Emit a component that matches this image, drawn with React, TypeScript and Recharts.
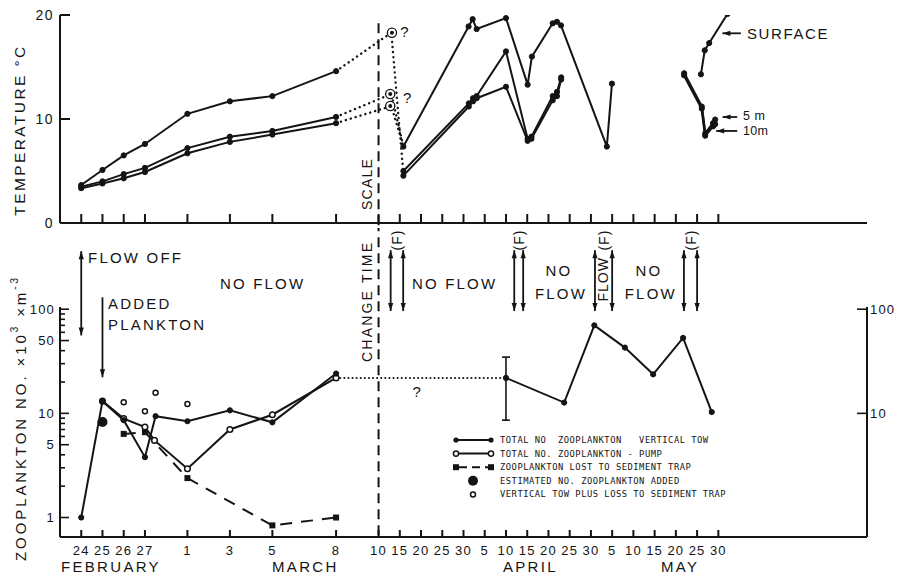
import React from 'react';
import {
  ComposedChart, Line, Scatter, XAxis, YAxis, ReferenceLine, ReferenceDot, ErrorBar, Legend,
} from 'recharts';

const FONT = '"Liberation Sans", Arial, Helvetica, sans-serif';
const ink = '#141414';

// x axis runs in "units": 1 day per unit up to Mar 10, then 5 days per unit
const tickPos = [0, 1, 2, 3, 5, 7, 9, 12, 14, 15, 16, 17, 18, 19, 20, 21, 22, 23, 24, 25, 26, 27, 28, 29, 30];
const tickLabels = ['24', '25', '26', '27', '1', '3', '5', '8', '10', '15', '20', '25', '30', '5', '10', '15', '20', '25', '30', '5', '10', '15', '20', '25', '30'];
const monthPos = [1.4, 10.55, 21.15, 28.2];
const monthNames = ['FEBRUARY', 'MARCH', 'APRIL', 'MAY'];

// temperature, Feb 24 - Mar 8
const tEarly = [0, 1, 2, 3, 5, 7, 9, 12];
const surfEarly = [3.65, 5.1, 6.5, 7.6, 10.5, 11.7, 12.2, 14.6];
const m5Early = [3.5, 4.0, 4.7, 5.3, 7.2, 8.3, 8.85, 10.2];
const m10Early = [3.35, 3.8, 4.3, 4.9, 6.7, 7.8, 8.5, 9.6];

// doubtful readings just after the scale change
const tQuery = [14.63, 14.55, 14.55];
const query = [18.3, 12.4, 11.25];
const tBridge = [12, 14.6, 15.17];
const surfBridge = [14.6, 18.3, 4.7];
const m5Bridge = [10.2, 12.4, 7.35];
const m10Bridge = [9.6, 11.25, 7.35];

// Mar 15 - May
const tSurfLate = [15.17, 18.24, 18.43, 18.62, 20.0, 21.02, 21.22, 22.2, 22.4, 22.59, 24.75, 24.99];
const surfLate = [7.35, 18.9, 19.6, 18.65, 19.7, 13.3, 16.0, 19.2, 19.35, 19.0, 7.35, 13.4];
const tMidLate = [15.17, 18.25, 18.45, 18.62, 20.0, 21.02, 21.2, 22.2, 22.4, 22.6];
const m5Late = [5.0, 11.5, 12.0, 12.2, 16.5, 8.1, 8.3, 12.2, 12.6, 14.0];
const m10Late = [4.55, 11.2, 11.7, 12.0, 13.1, 7.9, 8.1, 11.8, 12.2, 13.8];
const tSurfMay = [29.18, 29.36, 29.57, 30.43];
const surfMay = [14.3, 16.6, 17.3, 20.1];
const tMidMay = [28.39, 29.22, 29.38, 29.75, 29.85];
const m5May = [14.4, 11.2, 8.6, 9.6, 9.95];
const m10May = [14.2, 11.0, 8.4, 9.3, 9.5];

// zooplankton, thousands per m3
const tTowEarly = [0, 1, 2, 3, 3.5, 5, 7, 9, 12];
const towEarly = [1.0, 13.1, 8.6, 3.8, 9.4, 8.4, 10.7, 8.2, 24.1];
const tTowLate = [20, 22.74, 24.16, 25.6, 26.93, 28.34, 29.69];
const towLate = [21.9, 12.7, 70, 42.8, 23.7, 53, 10.3];
const towRange = [8.6, 34.7];
const tGap = [12, 20];
const gap = [21.9, 21.9];
const tPump = [1, 2, 3, 3.45, 5, 7, 9, 12];
const pump = [13.1, 8.9, 7.4, 5.5, 2.94, 7.0, 9.7, 21.9];
const tTrap = [2, 3, 5, 9, 12];
const trap = [6.35, 6.6, 2.39, 0.84, 1.0];
const tAdded = [1];
const added = [8.25];
const tTowPlus = [2, 3, 3.5, 5];
const towPlus = [12.8, 10.45, 15.8, 12.3];

const zooTicks = [1, 2, 3, 4, 5, 6, 7, 8, 9, 10, 20, 30, 40, 50, 60, 70, 80, 90, 100];
const zooMajor = [1, 5, 10, 50, 100];

// flow changes
const flowArrowT = [14.57, 15.16, 20.39, 20.81, 24.19, 25.0, 28.38, 29.0];
const flowMarkT = [14.87, 20.6, 24.6, 28.7];

const legendNames = [
  'TOTAL NO  ZOOPLANKTON   VERTICAL TOW',
  'TOTAL NO. ZOOPLANKTON - PUMP',
  'ZOOPLANKTON LOST TO SEDIMENT TRAP',
  'ESTIMATED NO. ZOOPLANKTON ADDED',
  'VERTICAL TOW PLUS LOSS TO SEDIMENT TRAP',
];

const pts = (t: number[], v: number[]) => t.map((x, i) => ({ t: x, v: v[i] }));

const dotFill = { r: 2.6, fill: ink, stroke: ink, strokeWidth: 1 };
const dotOpen = { r: 2.8, fill: '#fff', stroke: ink, strokeWidth: 1.5 };
const dotted = { strokeDasharray: '0.1 5', strokeLinecap: 'round' as const, strokeWidth: 2.4 };

const arrow = (headStart: boolean, headEnd: boolean) => (p: any) => {
  const { x1, y1, x2, y2 } = p;
  const dx = x2 - x1;
  const dy = y2 - y1;
  const len = Math.hypot(dx, dy) || 1;
  const ux = dx / len;
  const uy = dy / len;
  const head = (tx: number, ty: number, ax: number, ay: number) => {
    const bx = tx - ax * 8;
    const by = ty - ay * 8;
    return `M${tx},${ty} L${bx - ay * 2.6},${by + ax * 2.6} L${bx + ay * 2.6},${by - ax * 2.6} Z`;
  };
  return (
    <g>
      <line x1={x1} y1={y1} x2={x2} y2={y2} stroke={ink} strokeWidth={1.8} />
      {headStart && <path d={head(x1, y1, -ux, -uy)} fill={ink} />}
      {headEnd && <path d={head(x2, y2, ux, uy)} fill={ink} />}
    </g>
  );
};

type NoteOpts = { anchor?: 'start' | 'middle' | 'end'; rotate?: boolean; size?: number; spacing?: number };
const note = (key: string, x: number, y: number, text: React.ReactNode, o: NoteOpts = {}) => (
  <ReferenceDot
    key={key}
    x={x}
    y={y}
    r={0}
    ifOverflow="visible"
    shape={(p: any) => (
      <text
        x={p.cx}
        y={p.cy}
        transform={o.rotate ? `rotate(-90 ${p.cx} ${p.cy})` : undefined}
        textAnchor={o.anchor ?? 'start'}
        dominantBaseline="central"
        fontSize={o.size ?? 15}
        letterSpacing={o.spacing ?? 2.2}
        fontFamily={FONT}
        fill={ink}
      >
        {text}
      </text>
    )}
  />
);

const TopXTick = (p: any) => (
  <line x1={p.x} x2={p.x} y1={p.y} y2={p.y - 9} stroke={ink} strokeWidth={2} />
);

const BottomXTick = (p: any) => {
  const i = tickPos.indexOf(p.payload.value);
  return (
    <g>
      <line x1={p.x} x2={p.x} y1={p.y} y2={p.y - 7} stroke={ink} strokeWidth={2} />
      <text x={p.x} y={p.y + 13} textAnchor="middle" dominantBaseline="central" fontSize={13} letterSpacing={1.2} fontFamily={FONT} fill={ink}>
        {tickLabels[i]}
      </text>
    </g>
  );
};

const TempTick = (p: any) => (
  <g>
    <line x1={p.x} x2={p.x + 10} y1={p.y} y2={p.y} stroke={ink} strokeWidth={2} />
    <text x={p.x - 6} y={p.y} textAnchor="end" dominantBaseline="central" fontSize={14} letterSpacing={1.5} fontFamily={FONT} fill={ink}>
      {p.payload.value}
    </text>
  </g>
);

const LogTick = (p: any) => {
  const v = p.payload.value;
  const major = zooMajor.includes(v);
  return (
    <g>
      <line x1={p.x} x2={p.x + (major ? 9 : 5)} y1={p.y} y2={p.y} stroke={ink} strokeWidth={1.6} />
      {major && (
        <text x={p.x - 5} y={p.y} textAnchor="end" dominantBaseline="central" fontSize={13} letterSpacing={1.2} fontFamily={FONT} fill={ink}>
          {v}
        </text>
      )}
    </g>
  );
};

const RightTick = (p: any) => (
  <g>
    <line x1={p.x} x2={p.x - 10} y1={p.y} y2={p.y} stroke={ink} strokeWidth={1.6} />
    <text x={p.x + 3} y={p.y} textAnchor="start" dominantBaseline="central" fontSize={13} letterSpacing={1.2} fontFamily={FONT} fill={ink}>
      {p.payload.value}
    </text>
  </g>
);

const TempTitle = (p: any) => {
  const { x, y, height } = p.viewBox;
  const cx = x + 19;
  const cy = y + height / 2 + 11;
  return (
    <text x={cx} y={cy} transform={`rotate(-90 ${cx} ${cy})`} textAnchor="middle" dominantBaseline="central" fontSize={15.5} letterSpacing={2.4} fontFamily={FONT} fill={ink}>
      TEMPERATURE °C
    </text>
  );
};

const ZooTitle = (p: any) => {
  const { x, y, height } = p.viewBox;
  const cx = x + 20;
  const cy = y + height / 2 - 4;
  return (
    <text x={cx} y={cy} transform={`rotate(-90 ${cx} ${cy})`} textAnchor="middle" dominantBaseline="central" fontSize={15} letterSpacing={2.9} fontFamily={FONT} fill={ink}>
      ZOOPLANKTON NO. ×10
      <tspan dy={-6} fontSize={10}>3</tspan>
      <tspan dy={6}> ×m</tspan>
      <tspan dy={-6} fontSize={10}>-3</tspan>
    </text>
  );
};

const legendMarker = (i: number, y: number) => {
  if (i === 0)
    return (
      <g>
        <line x1={6} x2={41} y1={y} y2={y} stroke={ink} strokeWidth={2} />
        <circle cx={6} cy={y} r={2.6} fill={ink} />
        <circle cx={41} cy={y} r={2.6} fill={ink} />
      </g>
    );
  if (i === 1)
    return (
      <g>
        <line x1={6} x2={41} y1={y} y2={y} stroke={ink} strokeWidth={2} />
        <circle cx={6} cy={y} r={2.6} fill="#fff" stroke={ink} strokeWidth={1.5} />
        <circle cx={41} cy={y} r={2.6} fill="#fff" stroke={ink} strokeWidth={1.5} />
      </g>
    );
  if (i === 2)
    return (
      <g>
        <line x1={9} x2={38} y1={y} y2={y} stroke={ink} strokeWidth={2} strokeDasharray="8 5" />
        <rect x={3} y={y - 3} width={6} height={6} fill={ink} />
        <rect x={38} y={y - 3} width={6} height={6} fill={ink} />
      </g>
    );
  if (i === 3) return <circle cx={23} cy={y} r={5} fill={ink} />;
  return <circle cx={23} cy={y} r={2.5} fill="#fff" stroke={ink} strokeWidth={1.5} />;
};

const LegendBox = () => (
  <svg width={280} height={70} style={{ display: 'block' }}>
    {legendNames.map((name, i) => {
      const y = 6 + i * 13.6;
      return (
        <g key={name}>
          {legendMarker(i, y)}
          <text x={50} y={y} dominantBaseline="central" fontSize={8.8} letterSpacing={0.5} fontFamily='"DejaVu Sans Mono", monospace' fill={ink} style={{ whiteSpace: 'pre' }}>
            {name}
          </text>
        </g>
      );
    })}
  </svg>
);

const xDomain: [number, number] = [-1, 37];

export default function App() {
  return (
    <div style={{ position: 'absolute', left: 0, top: 0, width: 900, height: 579, background: '#fff', overflow: 'hidden' }}>
      <div style={{ position: 'absolute', left: 0, top: 0 }}>
        <ComposedChart width={900} height={240} margin={{ top: 15, right: 33, bottom: 12, left: 0 }}>
          <XAxis type="number" dataKey="t" domain={xDomain} allowDataOverflow ticks={tickPos} interval={0} height={5}
            tickSize={0} tickMargin={0} tick={<TopXTick />} tickLine={false} axisLine={{ stroke: ink, strokeWidth: 2 }} />
          <YAxis type="number" dataKey="v" domain={[0, 20]} allowDataOverflow ticks={[0, 10, 20]} interval={0} width={60}
            tickSize={0} tickMargin={0} tick={<TempTick />} tickLine={false} axisLine={{ stroke: ink, strokeWidth: 2 }}
            label={{ content: TempTitle }} />

          <ReferenceLine segment={[{ x: 14, y: 19.2 }, { x: 14, y: -0.5 }]} ifOverflow="visible" stroke={ink} strokeWidth={2} strokeDasharray="10 6" />

          <Line data={pts(tBridge, surfBridge)} dataKey="v" stroke={ink} {...dotted} dot={false} isAnimationActive={false} />
          <Line data={pts(tBridge, m5Bridge)} dataKey="v" stroke={ink} {...dotted} dot={false} isAnimationActive={false} />
          <Line data={pts(tBridge, m10Bridge)} dataKey="v" stroke={ink} {...dotted} dot={false} isAnimationActive={false} />

          <Line data={pts(tEarly, surfEarly)} dataKey="v" stroke={ink} strokeWidth={2} dot={dotFill} isAnimationActive={false} />
          <Line data={pts(tEarly, m5Early)} dataKey="v" stroke={ink} strokeWidth={2} dot={dotFill} isAnimationActive={false} />
          <Line data={pts(tEarly, m10Early)} dataKey="v" stroke={ink} strokeWidth={2} dot={dotFill} isAnimationActive={false} />
          <Line data={pts(tSurfLate, surfLate)} dataKey="v" stroke={ink} strokeWidth={2} dot={dotFill} isAnimationActive={false} />
          <Line data={pts(tMidLate, m5Late)} dataKey="v" stroke={ink} strokeWidth={2} dot={dotFill} isAnimationActive={false} />
          <Line data={pts(tMidLate, m10Late)} dataKey="v" stroke={ink} strokeWidth={2} dot={dotFill} isAnimationActive={false} />
          <Line data={pts(tSurfMay, surfMay)} dataKey="v" stroke={ink} strokeWidth={2} dot={dotFill} isAnimationActive={false} />
          <Line data={pts(tMidMay, m5May)} dataKey="v" stroke={ink} strokeWidth={2.5} dot={dotFill} isAnimationActive={false} />
          <Line data={pts(tMidMay, m10May)} dataKey="v" stroke={ink} strokeWidth={2.5} dot={dotFill} isAnimationActive={false} />

          <Scatter data={pts(tQuery, query)} dataKey="v" isAnimationActive={false}
            shape={(p: any) => (
              <g>
                <circle cx={p.cx} cy={p.cy} r={4.6} fill="#fff" stroke={ink} strokeWidth={1.3} />
                <circle cx={p.cx} cy={p.cy} r={2} fill={ink} />
              </g>
            )} />

          <ReferenceLine segment={[{ x: 31.06, y: 18.24 }, { x: 30.19, y: 18.24 }]} ifOverflow="visible" shape={arrow(false, true)} />
          <ReferenceLine segment={[{ x: 30.89, y: 10.19 }, { x: 30.2, y: 10.19 }]} ifOverflow="visible" shape={arrow(false, true)} />
          <ReferenceLine segment={[{ x: 30.89, y: 8.85 }, { x: 29.9, y: 8.85 }]} ifOverflow="visible" shape={arrow(false, true)} />

          {note('scale', 13.45, 3.75, 'SCALE', { rotate: true, anchor: 'middle', size: 14, spacing: 1.2 })}
          {note('q1', 15.22, 18.4, '?', { anchor: 'middle', size: 15, spacing: 0 })}
          {note('q2', 15.35, 12.1, '?', { anchor: 'middle', size: 15, spacing: 0 })}
          {note('surf', 31.35, 18.2, 'SURFACE', { size: 15, spacing: 1.6 })}
          {note('m5', 31.16, 10.25, '5 m', { size: 12.5, spacing: 0.5 })}
          {note('m10', 31.16, 8.8, '10m', { size: 12.5, spacing: 0.3 })}
        </ComposedChart>
      </div>

      <div style={{ position: 'absolute', left: 0, top: 228 }}>
        <ComposedChart width={900} height={351} margin={{ top: 79, right: 0, bottom: 0, left: 0 }}>
          <XAxis type="number" dataKey="t" domain={xDomain} allowDataOverflow ticks={tickPos} interval={0} height={42}
            tickSize={0} tickMargin={0} tick={<BottomXTick />} tickLine={false} axisLine={{ stroke: ink, strokeWidth: 2 }} />
          <YAxis type="number" dataKey="v" scale="log" domain={[0.65, 105]} allowDataOverflow ticks={zooTicks} interval={0} width={60}
            tickSize={0} tickMargin={0} tick={<LogTick />} tickLine={false} axisLine={{ stroke: ink, strokeWidth: 2 }}
            label={{ content: ZooTitle }} />
          <YAxis yAxisId="r" orientation="right" type="number" scale="log" domain={[0.65, 105]} allowDataOverflow ticks={[10, 100]} interval={0} width={33}
            tickSize={0} tickMargin={0} tick={<RightTick />} tickLine={false} axisLine={{ stroke: ink, strokeWidth: 2 }} />

          <ReferenceLine segment={[{ x: 14, y: 700 }, { x: 14, y: 0.65 }]} ifOverflow="visible" stroke={ink} strokeWidth={2} strokeDasharray="10 6" />

          <ReferenceLine segment={[{ x: 0, y: 361 }, { x: 0, y: 56 }]} ifOverflow="visible" shape={arrow(true, true)} />
          <ReferenceLine segment={[{ x: 1, y: 130 }, { x: 1, y: 22.2 }]} ifOverflow="visible" shape={arrow(false, true)} />
          {flowArrowT.map((t) => (
            <ReferenceLine key={`fa${t}`} segment={[{ x: t, y: 369 }, { x: t, y: 96 }]} ifOverflow="visible" shape={arrow(true, true)} />
          ))}
          {flowMarkT.map((t) => note(`fm${t}`, t, 461, '(F)', { rotate: true, anchor: 'middle', size: 14, spacing: 1 }))}

          {note('flowoff', 0.32, 315, 'FLOW OFF')}
          {note('added', 1.26, 114, 'ADDED')}
          {note('plankton', 1.26, 71.8, 'PLANKTON')}
          {note('nf1', 6.53, 178, 'NO FLOW')}
          {note('change', 13.45, 119, 'CHANGE TIME', { rotate: true, anchor: 'middle', size: 14, spacing: 2.2 })}
          {note('nf2', 15.57, 178, 'NO FLOW')}
          {note('no3', 22.49, 237, 'NO', { anchor: 'middle' })}
          {note('fl3', 22.59, 143, 'FLOW', { anchor: 'middle' })}
          {note('flow', 24.59, 194, 'FLOW', { rotate: true, anchor: 'middle', size: 14, spacing: 1 })}
          {note('no4', 26.73, 237, 'NO', { anchor: 'middle' })}
          {note('fl4', 26.82, 143, 'FLOW', { anchor: 'middle' })}
          {note('q3', 15.79, 16.1, '?', { anchor: 'middle', spacing: 0 })}
          {monthPos.map((t, i) => note(`mo${i}`, t, 0.335, monthNames[i], { anchor: 'middle', size: 15, spacing: 2.3 }))}

          <Line data={pts(tGap, gap)} dataKey="v" stroke={ink} strokeDasharray="0.1 4" strokeLinecap="round" strokeWidth={2} dot={false} isAnimationActive={false} />
          <Line data={pts(tTrap, trap)} dataKey="v" stroke={ink} strokeWidth={2} strokeDasharray="12 9" isAnimationActive={false}
            dot={(p: any) => <rect key={`sq${p.index}`} x={p.cx - 3} y={p.cy - 3} width={6} height={6} fill={ink} />} />
          <Line data={pts(tPump, pump)} dataKey="v" stroke={ink} strokeWidth={2} dot={dotOpen} isAnimationActive={false} />
          <Line data={pts(tTowEarly, towEarly)} dataKey="v" stroke={ink} strokeWidth={2} dot={dotFill} isAnimationActive={false} />
          <Line data={pts(tTowLate, towLate)} dataKey="v" stroke={ink} strokeWidth={2} dot={dotFill} isAnimationActive={false} />

          <Scatter data={pts(tTowPlus, towPlus)} dataKey="v" isAnimationActive={false}
            shape={(p: any) => <circle cx={p.cx} cy={p.cy} r={2.5} fill="#fff" stroke={ink} strokeWidth={1.5} />} />
          <Scatter data={pts(tAdded, added)} dataKey="v" isAnimationActive={false}
            shape={(p: any) => <circle cx={p.cx} cy={p.cy} r={5} fill={ink} />} />
          <Scatter data={[{ t: tTowLate[0], v: towLate[0], err: [towLate[0] - towRange[0], towRange[1] - towLate[0]] }]} dataKey="v" isAnimationActive={false}
            shape={() => <g />}>
            <ErrorBar dataKey="err" direction="y" width={4} stroke={ink} strokeWidth={1.6} isAnimationActive={false} />
          </Scatter>

          <Legend layout="vertical" align="center" verticalAlign="middle"
            wrapperStyle={{ left: 450, top: 206, width: 280, height: 70 }} content={() => <LegendBox />} />
        </ComposedChart>
      </div>
    </div>
  );
}
